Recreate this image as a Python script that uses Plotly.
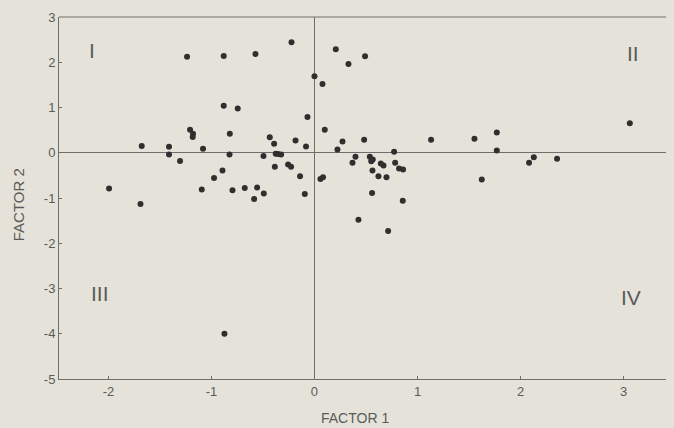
import plotly.graph_objects as go

factor1 = [-1.237, -0.881, -0.573, -0.223, 0.207, 0.0, 0.078, -0.881, -0.745, -0.068,
           0.10, -1.208, -1.179, -1.182, -0.822, -0.434, -0.392, -0.184, -0.082, 0.223,
           -1.677, -1.412, -1.082, -1.412, -1.305, -0.825, -0.495, -0.376, -0.353, -0.324,
           -0.385, -0.256, -0.227, -0.140, 0.058, 0.083, -0.893, -0.975, -1.094, -0.796,
           -0.677, -0.557, -0.586, -0.492, -0.094, -1.994, -1.689, -0.874, 0.330, 0.491,
           3.061, 0.272, 0.482, 1.132, 1.553, 1.770, 1.770, 0.398, 0.369, 0.537,
           0.566, 0.551, 0.644, 0.670, 0.773, 0.783, 0.563, 0.621, 0.699, 0.821,
           0.860, 0.559, 0.857, 0.427, 0.715, 1.624, 2.083, 2.129, 2.355]
factor2 = [2.12, 2.14, 2.18, 2.44, 2.29, 1.69, 1.52, 1.04, 0.98, 0.79,
           0.51, 0.51, 0.42, 0.35, 0.42, 0.34, 0.20, 0.27, 0.14, 0.07,
           0.15, 0.13, 0.09, -0.04, -0.18, -0.04, -0.07, -0.02, -0.03, -0.04,
           -0.31, -0.26, -0.31, -0.52, -0.58, -0.54, -0.39, -0.56, -0.81, -0.83,
           -0.78, -0.77, -1.02, -0.90, -0.91, -0.79, -1.13, -4.00, 1.96, 2.13,
           0.65, 0.25, 0.29, 0.29, 0.31, 0.45, 0.05, -0.09, -0.22, -0.09,
           -0.15, -0.19, -0.24, -0.28, 0.02, -0.22, -0.39, -0.52, -0.54, -0.35,
           -0.37, -0.89, -1.06, -1.48, -1.73, -0.59, -0.22, -0.10, -0.13]

x_ticks = [-2, -1, 0, 1, 2, 3]
x_tick_labels = ["-2", "-1", "0", "1", "2", "3"]
y_ticks = [-5, -4, -3, -2, -1, 0, 1, 2, 3]
y_tick_labels = ["-5", "-4", "-3", "-2", "-1", "0", "1", "2", "3"]

quadrant_names = ["I", "II", "III", "IV"]
quadrant_x = [-2.16, 3.09, -2.08, 3.07]
quadrant_y = [2.27, 2.2, -3.1, -3.2]

BG = "#e5e3d9"
LINE = "#6e6e6a"
TXT = "#5a5a58"
FONT = "Liberation Sans, Arial, sans-serif"

fig = go.Figure()
fig.add_trace(go.Scatter(
    x=factor1, y=factor2, mode="markers",
    marker=dict(size=6, color="#2f2f2f", line=dict(width=0)),
    showlegend=False, hoverinfo="skip"))

for name, qx, qy in zip(quadrant_names, quadrant_x, quadrant_y):
    fig.add_annotation(x=qx, y=qy, text=name, showarrow=False,
                       font=dict(family=FONT, size=21, color=TXT))

fig.add_annotation(x=0.481, y=-0.108, xref="paper", yref="paper", text="FACTOR 1",
                   showarrow=False, xanchor="center", yanchor="middle",
                   font=dict(family=FONT, size=14, color=TXT))
fig.add_annotation(x=-0.066, y=0.481, xref="paper", yref="paper", text="FACTOR 2",
                   showarrow=False, textangle=-90, xanchor="center", yanchor="middle",
                   font=dict(family=FONT, size=15, color=TXT))

# top frame line
fig.add_shape(type="line", xref="paper", yref="paper", x0=0, x1=1, y0=1, y1=1,
              line=dict(color=LINE, width=1))

fig.update_layout(
    width=666, height=420,
    margin=dict(l=51, r=0, t=9, b=49),
    paper_bgcolor=BG, plot_bgcolor=BG,
    font=dict(family=FONT, size=13, color=TXT),
)
fig.update_xaxes(range=[-2.48, 3.49], tickvals=x_ticks, ticktext=x_tick_labels,
                 showgrid=False, zeroline=True, zerolinecolor=LINE, zerolinewidth=1,
                 showline=True, linecolor=LINE, linewidth=1,
                 ticks="inside", ticklen=3, tickcolor=LINE,
                 tickfont=dict(size=13, color=TXT))
fig.update_yaxes(range=[-5, 3], tickvals=y_ticks, ticktext=y_tick_labels,
                 showgrid=False, zeroline=True, zerolinecolor=LINE, zerolinewidth=1,
                 showline=True, linecolor=LINE, linewidth=1,
                 ticks="inside", ticklen=3, tickcolor=LINE,
                 tickfont=dict(size=13, color=TXT))

fig.write_html("out.html", post_script="document.body.style.background='%s';" % BG)
